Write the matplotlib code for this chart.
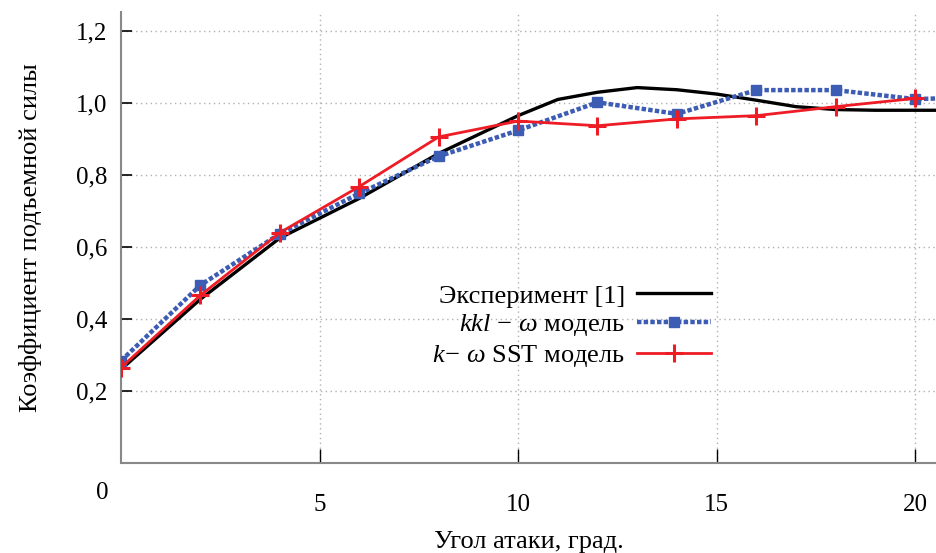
import matplotlib
matplotlib.use("Agg")
import matplotlib.pyplot as plt
from matplotlib.ticker import FuncFormatter

plt.rcParams['font.family'] = ['Liberation Serif', 'DejaVu Serif']
plt.rcParams['mathtext.fontset'] = 'custom'
plt.rcParams['mathtext.rm'] = 'Liberation Serif'
plt.rcParams['mathtext.it'] = 'Liberation Serif:italic'

# Experiment [1]
exp_x = [0, 2, 4, 6, 8, 10, 11, 12, 13, 14, 15, 16, 17, 18, 19, 20, 20.6]
exp_y = [0.26, 0.455, 0.625, 0.735, 0.86, 0.965, 1.01, 1.03, 1.043, 1.037, 1.025, 1.008, 0.99, 0.982, 0.98, 0.98, 0.98]

# kkl - omega model
kkl_x = [0, 2, 4, 6, 8, 10, 12, 14, 16, 18, 20, 20.6]
kkl_y = [0.284, 0.494, 0.637, 0.749, 0.852, 0.924, 1.002, 0.97, 1.036, 1.036, 1.011, 1.013]

# k - omega SST model
sst_x = [0, 2, 4, 6, 8, 10, 12, 14, 16, 18, 20]
sst_y = [0.265, 0.466, 0.64, 0.768, 0.906, 0.95, 0.937, 0.956, 0.965, 0.99, 1.013]

x_ticks = [5, 10, 15, 20]
y_ticks = [0.2, 0.4, 0.6, 0.8, 1.0, 1.2]

labels = ['Эксперимент [1]', r'$kkl\,-\,\omega$ модель', r'$k\!-\,\omega$ SST модель']

fig = plt.figure(figsize=(9.37, 5.53), dpi=100)
ax = fig.add_axes([121/937, 90/553, 1 - 121/937, (463 - 12)/553])

l1, = ax.plot(exp_x, exp_y, color='black', lw=2.4, zorder=3)
l2, = ax.plot(kkl_x, kkl_y, color='#3d5cb4', lw=3.2, ls=(0, (1, 0.5)), marker='s',
              ms=7, markevery=list(range(len(kkl_x) - 1)), zorder=4)
l3, = ax.plot(sst_x, sst_y, color='#ee1c25', lw=2, marker='+', ms=13, mew=2.2, zorder=5)

ax.set_xlim(0, 20.55)
ax.set_ylim(0, 1.253)
ax.set_xticks(x_ticks)
ax.set_yticks(y_ticks)
ax.yaxis.set_major_formatter(FuncFormatter(lambda v, p: f"{v:.1f}".replace('.', ',')))
ax.tick_params(axis='x', direction='in', length=10, width=1, pad=22, labelsize=18, colors='black')
ax.tick_params(axis='y', direction='in', length=8, width=1.2, pad=10, labelsize=18)
ax.grid(True, color='#b0b0b0', ls=(0, (1, 2.5)), lw=1)

for s in ['top', 'right']:
    ax.spines[s].set_visible(False)
ax.spines['left'].set_color('#888888')
ax.spines['bottom'].set_color('#888888')
ax.spines['left'].set_linewidth(1.5)
ax.spines['bottom'].set_linewidth(1.5)

fig.text(102/937, 1 - 493/553, '0', fontsize=18, ha='center', va='center')

ax.set_xlabel('Угол атаки, град.', fontsize=19, labelpad=11)
ax.set_ylabel('Коэффициент подъемной силы', fontsize=19, labelpad=24)

leg = ax.legend([l1, l2, l3], labels, loc='upper right',
                bbox_to_anchor=(724/937, 1 - 271/553), bbox_transform=fig.transFigure,
                frameon=False, markerfirst=False, numpoints=1, fontsize=19,
                handlelength=2.8, handletextpad=0.45, labelspacing=0.18, borderpad=0)
for t in leg.get_texts():
    t.set_ha('right')

fig.savefig('out.png', dpi=100)
